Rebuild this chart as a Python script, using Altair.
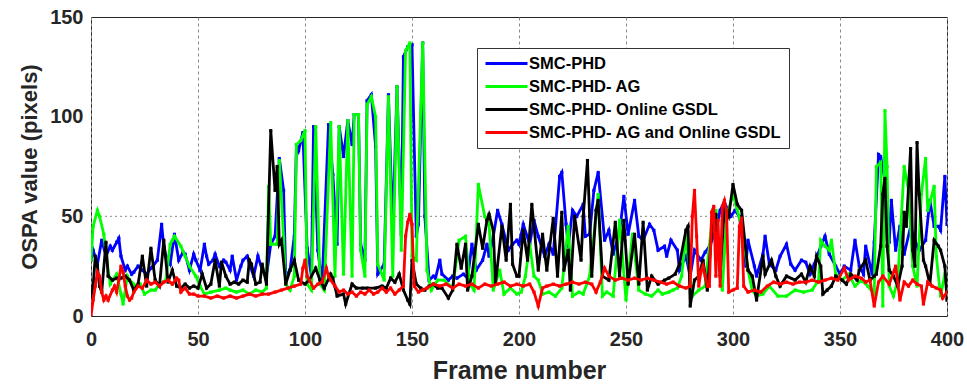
import altair as alt
import pandas as pd

SERIES = ["SMC-PHD", "SMC-PHD- AG", "SMC-PHD- Online GSDL", "SMC-PHD- AG and Online GSDL"]
COLORS = ["#0000ff", "#00ff00", "#000000", "#ff0000"]
X_TICKS = [0, 50, 100, 150, 200, 250, 300, 350, 400]
Y_TICKS = [0, 50, 100, 150]
Y_GRID = [50]

# (frame, OSPA value) pairs
blue = [(0,28),(1,33),(3,26),(5,38),(7,30),(9,35),(10,33),(12,37),(13,39),(14,30),(16,23),(17,25),(19,21),(20,22),
        (22,25),(24,23),(26,21),(28,24),(29,25),(31,28),(33,46),(34,35),(35,30),(37,26),(39,41),(41,28),(43,32),(44,31),
        (46,23),(48,31),(49,28),(51,23),(53,36),(54,30),(55,26),(57,28),(58,31),(60,25),(62,28),(63,27),(65,23),(66,30),
        (68,18),(70,25),(71,28),(73,30),(74,26),(76,20),(78,30),(80,23),(82,20),(84,36),(86,40),(88,79),(90,63),(91,20),
        (93,23),(95,40),(96,86),(97,83),(99,92),(101,34),(103,20),(104,95),(106,33),(108,16),(111,96),(113,71),(115,36),
        (116,95),(118,80),(120,98),(122,86),(123,101),(125,101),(126,36),(128,28),(129,108),(131,111),(133,85),(134,21),
        (137,26),(139,111),(141,43),(143,115),(145,41),(146,130),(148,135),(150,136),(152,40),(153,46),(155,137),(156,50),
        (158,18),(160,20),(161,19),(163,28),(164,21),(167,18),(169,20),(171,19),(174,21),(176,19),(178,36),(180,23),
        (183,28),(185,36),(186,30),(188,40),(190,53),(192,46),(195,33),(197,36),(199,38),(200,36),(202,46),(205,36),
        (207,48),(209,40),(212,30),(214,36),(216,31),(219,70),(220,72),(222,46),(223,35),(225,53),(227,50),(230,56),
        (231,40),(233,41),(235,63),(237,72),(240,38),(242,43),(244,31),(247,42),(249,60),(251,41),(254,58),(256,40),
        (258,38),(261,46),(263,43),(265,33),(268,35),(269,30),(271,38),(274,33),(275,23),(278,30),(280,20),(282,33),
        (285,28),(287,32),(289,35),(292,43),(294,53),(296,57),(299,50),(301,53),(303,50),(306,25),(307,38),(310,25),
        (311,20),(314,31),(315,40),(317,26),(320,23),(322,30),(325,36),(327,26),(329,23),(332,28),(334,27),(336,21),
        (338,26),(341,35),(343,40),(345,31),(348,25),(350,21),(352,25),(355,23),(357,38),(359,25),(361,21),(362,35),
        (365,21),(366,37),(368,81),(369,80),(371,68),(373,37),(374,58),(376,33),(378,45),(380,31),(383,45),(385,38),
        (387,33),(390,38),(392,58),(394,45),(396,45),(397,43),(399,70),(400,46)]

green = [(0,28),(1,45),(3,53),(4,50),(6,41),(7,31),(9,16),(10,18),(12,21),(14,11),(15,6),(17,20),(18,18),(21,15),
         (23,16),(25,11),(28,13),(30,13),(32,16),(35,18),(37,36),(38,38),(39,40),(42,35),(44,30),(46,25),(49,20),(51,15),
         (53,11),(56,12),(60,13),(63,14),(65,13),(68,12),(71,13),(74,11),(77,13),(80,12),(82,14),(83,65),(84,36),(87,36),
         (88,78),(90,39),(91,16),(93,13),(95,20),(96,86),(98,88),(100,93),(101,16),(103,13),(105,95),(107,16),(109,13),
         (112,97),(114,20),(116,95),(118,21),(120,98),(122,20),(123,101),(125,101),(126,33),(128,20),(129,106),(131,110),
         (133,100),(134,26),(137,18),(139,110),(141,20),(143,115),(145,33),(147,133),(149,137),(150,30),(152,28),(155,137),
         (157,23),(159,13),(162,18),(165,18),(169,14),(172,38),(175,40),(177,16),(179,13),(181,66),(184,50),(186,46),
         (188,13),(191,23),(193,11),(196,14),(199,11),(201,12),(203,20),(205,36),(207,20),(209,18),(211,11),(214,12),
         (217,10),(220,14),(223,45),(225,10),(228,12),(230,11),(233,20),(237,61),(239,10),(241,12),(244,10),(247,48),
         (250,8),(253,41),(256,13),(259,11),(262,10),(265,13),(267,11),(270,12),(272,13),(274,14),(276,20),(278,40),
         (281,10),(284,13),(287,15),(290,46),(292,53),(295,13),(297,50),(300,61),(302,53),(304,45),(307,23),(309,13),
         (311,10),(314,11),(317,15),(321,10),(325,10),(329,13),(333,12),(337,13),(340,18),(341,38),(343,35),(345,33),
         (346,38),(348,21),(351,18),(354,21),(357,15),(360,18),(363,15),(366,11),(367,75),(369,77),(370,5),(371,103),
         (372,75),(373,15),(375,10),(377,18),(380,75),(382,63),(384,25),(386,15),(388,61),(390,79),(391,53),(394,65),
         (395,30),(397,10),(399,21),(400,13)]

black = [(0,10),(1,15),(2,30),(3,25),(4,15),(5,12),(7,37),(8,20),(10,18),(12,19),(14,19),(16,20),(18,18),(20,13),
         (22,16),(24,30),(26,15),(28,34),(30,18),(32,15),(34,38),(36,17),(38,23),(40,15),(42,14),(44,16),(46,14),(48,15),
         (50,14),(52,21),(54,14),(56,16),(58,28),(60,15),(61,27),(63,20),(65,16),(67,17),(69,16),(71,18),(73,17),(74,28),
         (75,26),(77,16),(79,17),(80,26),(82,16),(84,93),(86,63),(87,75),(88,36),(89,38),(91,16),(93,23),(95,28),(97,18),
         (100,16),(102,18),(105,24),(107,18),(109,14),(112,21),(113,19),(115,10),(118,11),(119,6),(122,16),(124,14),
         (127,14),(129,14),(133,14),(136,15),(138,14),(140,19),(142,17),(144,21),(146,13),(148,8),(149,6),(150,28),
         (152,16),(154,14),(156,13),(158,15),(160,16),(162,14),(164,14),(167,9),(169,13),(171,36),(173,24),(175,36),
         (176,13),(178,20),(181,46),(183,34),(185,48),(186,51),(188,43),(189,16),(192,45),(194,28),(196,56),(197,26),
         (199,20),(200,20),(202,43),(204,28),(206,56),(209,23),(211,41),(213,23),(216,49),(218,20),(220,52),(221,23),
         (223,33),(224,13),(226,50),(229,28),(230,50),(232,78),(233,50),(234,20),(236,53),(237,58),(239,20),(242,18),
         (245,47),(247,20),(249,48),(251,16),(254,41),(256,16),(258,47),(260,13),(262,20),(265,16),(268,18),(270,19),
         (273,21),(275,26),(278,43),(279,45),(280,5),(282,18),(284,20),(286,28),(288,13),(290,41),(292,51),(294,20),
         (296,55),(298,50),(300,66),(302,56),(304,53),(307,23),(309,20),(311,8),(314,30),(315,21),(318,28),(320,20),
         (322,15),(325,20),(329,18),(332,21),(334,17),(336,25),(338,20),(339,30),(341,25),(342,11),(344,13),(346,15),
         (348,20),(351,18),(353,16),(355,21),(358,18),(359,23),(362,28),(364,18),(366,20),(367,21),(369,35),(370,61),
         (371,69),(372,35),(373,23),(375,20),(377,15),(379,25),(380,52),(381,45),(383,84),(384,33),(385,25),(386,87),
         (387,61),(389,28),(390,25),(392,16),(394,38),(396,35),(397,33),(399,25),(400,8)]

red = [(0,0),(1,8),(2,15),(3,22),(4,20),(5,12),(6,8),(7,10),(8,8),(10,13),(11,15),(12,12),(13,18),(14,25),(15,22),
       (16,15),(17,10),(18,8),(19,9),(20,12),(22,15),(24,14),(26,18),(28,16),(30,17),(32,15),(34,17),(36,18),(38,16),
       (40,19),(41,18),(42,12),(44,14),(46,11),(48,11),(50,10),(53,10),(56,9),(59,10),(62,9),(65,10),(68,9),(71,10),
       (74,11),(77,10),(80,11),(83,11),(86,12),(89,13),(92,14),(95,15),(98,16),(99,24),(100,28),(101,20),(102,18),
       (104,14),(106,16),(108,17),(110,24),(111,20),(112,18),(114,15),(116,12),(118,13),(120,11),(122,12),(124,10),
       (126,12),(128,11),(130,13),(132,11),(134,12),(136,14),(138,12),(140,14),(142,11),(144,13),(146,15),(147,40),
       (148,47),(149,51),(150,46),(151,15),(153,12),(155,13),(157,14),(160,16),(163,15),(166,16),(169,14),(172,16),
       (175,15),(178,16),(181,14),(184,16),(187,15),(190,16),(193,17),(196,15),(199,16),(202,15),(205,16),(207,12),
       (209,5),(211,14),(213,15),(216,16),(219,15),(222,16),(225,17),(228,16),(231,17),(234,16),(236,12),(238,17),
       (240,24),(242,20),(245,18),(248,19),(251,18),(254,19),(257,18),(260,19),(263,18),(266,17),(269,16),(272,17),
       (275,15),(278,14),(280,15),(281,50),(282,63),(283,40),(284,15),(285,22),(286,25),(287,20),(288,15),(289,15),
       (290,52),(291,55),(292,20),(293,48),(294,15),(295,55),(296,58),(297,52),(298,12),(300,13),(302,14),(303,45),
       (304,49),(305,15),(307,12),(310,13),(313,12),(316,15),(319,17),(322,16),(325,17),(328,16),(331,17),(334,17),
       (337,18),(340,17),(343,18),(346,19),(349,18),(352,24),(354,18),(357,20),(360,19),(362,17),(364,18),(366,5),
       (368,17),(370,20),(373,16),(376,25),(378,8),(380,17),(382,15),(384,18),(386,16),(388,15),(389,6),(391,17),
       (393,15),(395,14),(397,13),(398,9),(400,12)]

rows = []
for name, pts in zip(SERIES, [blue, green, black, red]):
    for f, v in pts:
        rows.append({"frame": f, "value": v, "method": name})
df = pd.DataFrame(rows)

FONT = "Liberation Sans"

x_enc = alt.X("frame:Q", scale=alt.Scale(domain=[0, 400], nice=False, zero=False),
              axis=alt.Axis(values=X_TICKS, title="Frame number", grid=True, gridDash=[3, 3],
                            gridColor="#8a8a8a", gridWidth=1, ticks=False, domain=False,
                            labelFont=FONT, labelFontSize=20, labelFontWeight="bold", labelColor="#262626",
                            labelPadding=13, titleFont=FONT, titleFontSize=25, titleFontWeight="bold",
                            titleColor="#262626", titlePadding=9, labelFlush=False))
y_enc = alt.Y("value:Q", scale=alt.Scale(domain=[0, 150], nice=False),
              axis=alt.Axis(values=Y_TICKS, title="OSPA value (pixels)", grid=False, ticks=False, domain=False,
                            labelFont=FONT, labelFontSize=20, labelFontWeight="bold", labelColor="#262626",
                            labelPadding=8, titleFont=FONT, titleFontSize=22, titleFontWeight="bold",
                            titleColor="#262626", titlePadding=8, labelFlush=False))

color = alt.Color("method:N", scale=alt.Scale(domain=SERIES, range=COLORS),
                  legend=alt.Legend(orient="none", legendX=386, legendY=31, title=None,
                                    symbolType="M-3,0H3", symbolSize=196, symbolStrokeWidth=3,
                                    symbolOffset=14, labelOffset=14,
                                    labelFont=FONT, labelFontSize=16.5, labelFontWeight="bold", labelColor="black",
                                    strokeColor="#333333", fillColor="white", padding=7, rowPadding=6,
                                    labelLimit=400))

grid_df = pd.DataFrame({"value": Y_GRID})
hgrid = alt.Chart(grid_df).mark_rule(color="#8a8a8a", strokeDash=[2, 3], strokeWidth=1).encode(y=alt.Y("value:Q"))

layers = [hgrid]
for name in SERIES:
    layers.append(
        alt.Chart(df).transform_filter(alt.datum.method == name)
        .mark_line(strokeWidth=2.8, clip=True,
                   point=alt.OverlayMarkDef(shape="square", size=10, filled=True))
        .encode(x=x_enc, y=y_enc, color=color)
    )

chart = alt.layer(*layers).properties(
    width=856, height=299, autosize="none",
    padding={"left": 91, "top": 17, "right": 20, "bottom": 72},
    background="white",
).configure_view(stroke="#262626", strokeWidth=1)

chart.save("out.html", embed_options={"renderer": "svg", "actions": False})
